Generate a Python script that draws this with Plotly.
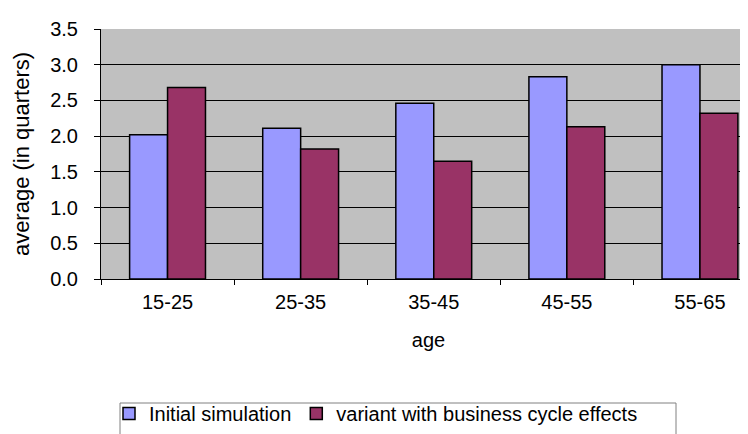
import plotly.graph_objects as go

categories = ["15-25", "25-35", "35-45", "45-55", "55-65"]
initial_simulation = [2.02, 2.11, 2.46, 2.83, 3.00]
variant_business_cycle = [2.68, 1.82, 1.65, 2.13, 2.32]
y_ticks = [0.0, 0.5, 1.0, 1.5, 2.0, 2.5, 3.0, 3.5]
y_tick_labels = [f"{v:.1f}" for v in y_ticks]

FONT = "Liberation Sans, Arial, sans-serif"

fig = go.Figure()
fig.add_trace(go.Bar(
    x=categories, y=initial_simulation, name="Initial simulation",
    marker=dict(color="#9999FF", line=dict(color="#000000", width=1.5)),
))
fig.add_trace(go.Bar(
    x=categories, y=variant_business_cycle, name="variant with business cycle effects",
    marker=dict(color="#993366", line=dict(color="#000000", width=1.5)),
))

W, H = 748, 434
L, R, T, B = 93, 0, 21, 163
plot_w = W - L - R
plot_h = H - T - B
cat_w = 133.1
span = plot_w / cat_w

fig.update_layout(
    width=W, height=H,
    margin=dict(l=L, r=R, t=T, b=B, autoexpand=False),
    paper_bgcolor="white",
    plot_bgcolor="#C0C0C0",
    barmode="group",
    bargap=0.43,
    bargroupgap=0,
    font=dict(family=FONT, size=20, color="#000000"),
    showlegend=True,
    legend=dict(
        orientation="h",
        xref="container", yref="container",
        x=101 / W, y=1 - 386 / H,
        xanchor="left", yanchor="top",
        bgcolor="rgba(0,0,0,0)",
        borderwidth=0,
        font=dict(family=FONT, size=20),
        itemclick=False,
    ),
    shapes=[dict(
        type="rect", xref="paper", yref="paper",
        x0=(112 - L) / plot_w, x1=(668 - L) / plot_w,
        y0=(H - B - 440) / plot_h, y1=(H - B - 395) / plot_h,
        line=dict(color="#808080", width=1), fillcolor="rgba(0,0,0,0)", layer="above",
    )],
)

fig.update_xaxes(
    range=[-0.5, -0.5 + span],
    showline=True, linecolor="#000000", linewidth=1,
    ticks="outside", tickson="boundaries", ticklen=5, tickcolor="#000000",
    tickfont=dict(family=FONT, size=20),
    ticklabelstandoff=5,
    showgrid=False,
    title=dict(text="age", font=dict(family=FONT, size=20), standoff=20),
    automargin=False,
)
fig.update_yaxes(
    range=[0, 3.5],
    tickvals=y_ticks, ticktext=y_tick_labels,
    showline=True, linecolor="#000000", linewidth=1,
    ticks="outside", ticklen=6, tickcolor="#000000",
    tickfont=dict(family=FONT, size=20),
    ticklabelstandoff=12,
    showgrid=True, gridcolor="#000000", gridwidth=1,
    zeroline=False,
    title=dict(text="average (in quarters)", font=dict(family=FONT, size=22), standoff=14),
    automargin=False,
)

fig.write_html("out.html")
